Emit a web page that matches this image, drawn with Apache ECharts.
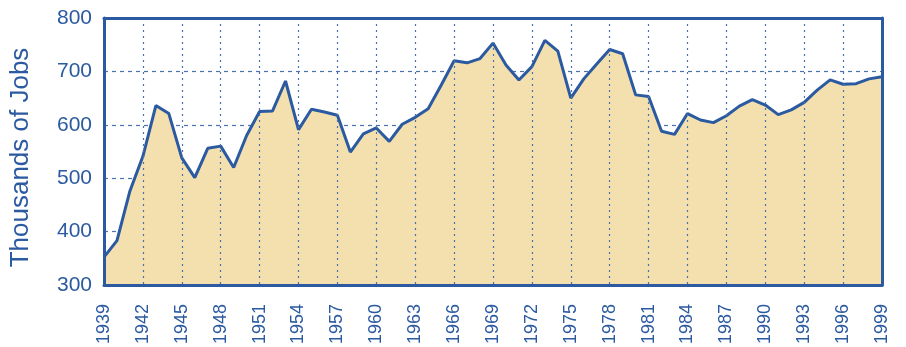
<!DOCTYPE html>
<html>
<head>
<meta charset="utf-8">
<script src="https://cdn.jsdelivr.net/npm/echarts@6/dist/echarts.min.js"></script>
<style>
  html, body { margin: 0; padding: 0; background: #ffffff; }
  #chart { width: 906px; height: 347px; }
</style>
</head>
<body>
<div id="chart"></div>
<script>
// Employment, thousands of jobs, 1939-1999
const years = [];
for (let y = 1939; y <= 1999; y++) years.push(String(y));

const jobs = [
  352, 383, 476, 541, 636, 621, 538, 501, 556, 560,
  520, 580, 625, 626, 682, 591, 629, 624, 618, 549,
  583, 594, 569, 601, 614, 630, 674, 720, 716, 724,
  753, 712, 684, 709, 758, 738, 650, 686, 714, 741,
  733, 656, 653, 588, 582, 621, 609, 604, 617, 635,
  647, 637, 619, 628, 642, 665, 684, 676, 677, 686,
  690
];

const yTicks = { min: 300, max: 800, step: 100 };
const yTitle = 'Thousands of Jobs';

const blue = '#2b5aa0';
const gridBlue = '#4a72b0';
const fill = '#f3e0ae';
const font = 'Liberation Sans, Arial, sans-serif';

const chart = echarts.init(document.getElementById('chart'));
chart.setOption({
  animation: false,
  grid: { left: 103, right: 24, top: 18, bottom: 61 },
  xAxis: [
    {
      type: 'category', data: years, boundaryGap: false, position: 'bottom', z: 5,
      axisLine: { show: true, lineStyle: { color: blue, width: 3 } },
      axisTick: { show: false },
      axisLabel: { interval: 2, rotate: 90, margin: 19, color: blue, fontSize: 18, fontFamily: font },
      splitLine: { show: true, interval: 2, lineStyle: { color: gridBlue, type: [2, 4], width: 1.2 } }
    },
    {
      type: 'category', data: years, boundaryGap: false, position: 'top', z: 5,
      axisLine: { show: true, lineStyle: { color: blue, width: 3 } },
      axisTick: { show: false }, axisLabel: { show: false }, splitLine: { show: false }
    }
  ],
  yAxis: [
    {
      type: 'value', min: yTicks.min, max: yTicks.max, interval: yTicks.step, position: 'left', z: 0,
      name: yTitle, nameLocation: 'middle', nameRotate: 90, nameGap: 70,
      nameTextStyle: { color: blue, fontSize: 26, fontFamily: font, padding: [0, 12, 0, 0] },
      axisLine: { show: false }, axisTick: { show: false },
      axisLabel: { margin: 12, color: blue, fontSize: 21, fontFamily: font },
      splitLine: { show: true, lineStyle: { color: gridBlue, type: [4, 4], width: 1.2 } }
    },
    {
      type: 'value', min: yTicks.min, max: yTicks.max, interval: yTicks.step, position: 'left', z: 5,
      axisLine: { show: true, lineStyle: { color: blue, width: 3 } },
      axisTick: { show: false }, axisLabel: { show: false }, splitLine: { show: false }
    },
    {
      type: 'value', min: yTicks.min, max: yTicks.max, interval: yTicks.step, position: 'right', z: 5,
      axisLine: { show: true, lineStyle: { color: blue, width: 3 } },
      axisTick: { show: false }, axisLabel: { show: false }, splitLine: { show: false }
    }
  ],
  series: [
    {
      type: 'line', data: jobs, xAxisIndex: 0, yAxisIndex: 0,
      symbol: 'none', z: 2,
      lineStyle: { color: blue, width: 3 },
      areaStyle: { color: fill, opacity: 1, origin: 'start' }
    }
  ]
});
</script>
</body>
</html>
